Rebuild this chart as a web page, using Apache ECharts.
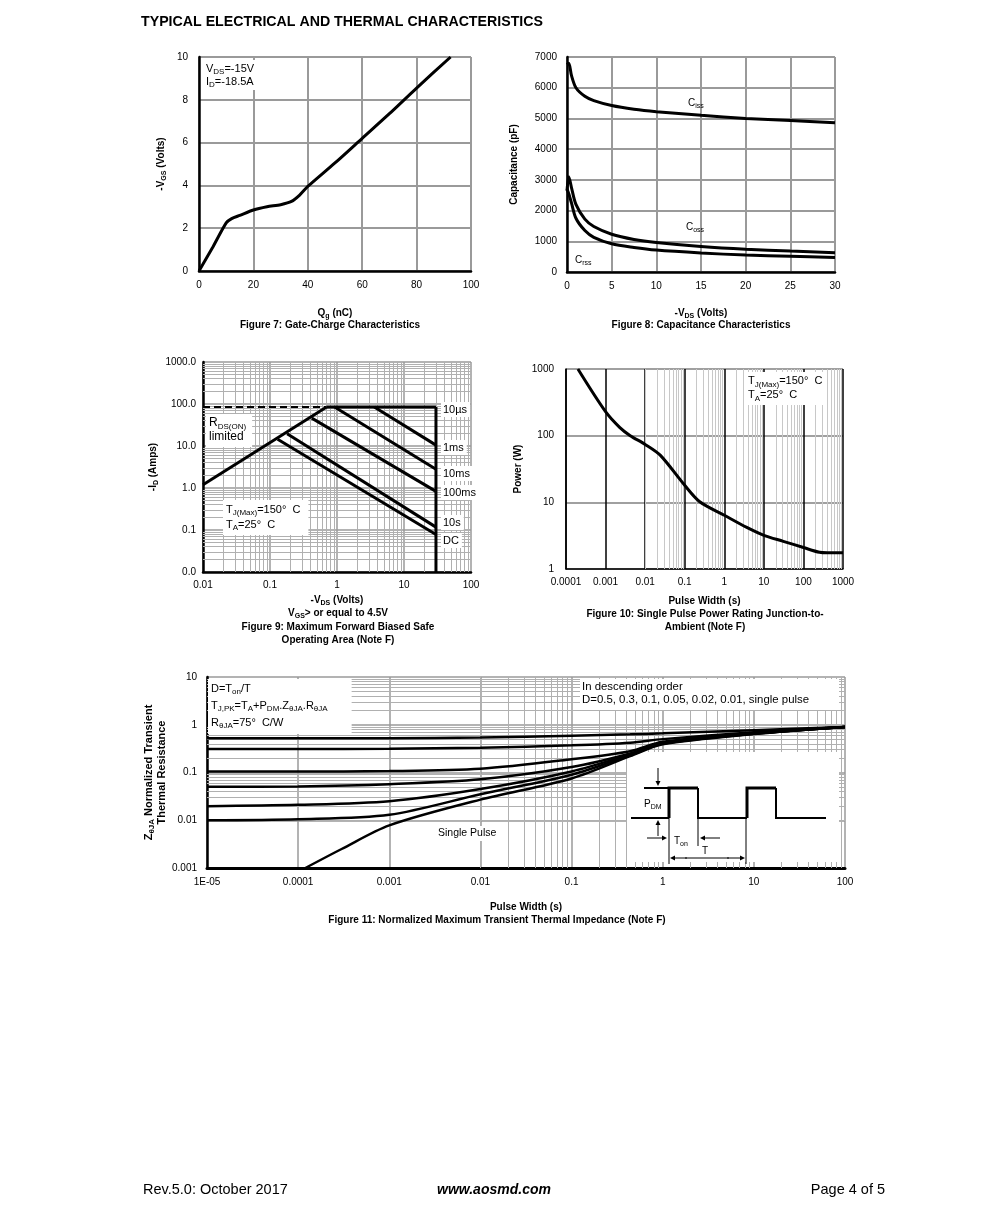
<!DOCTYPE html>
<html><head><meta charset="utf-8">
<script src="https://cdn.jsdelivr.net/npm/echarts@6/dist/echarts.min.js"></script>
<style>html,body{margin:0;padding:0;background:#fff;}#c{width:991px;height:1225px;}</style>
</head><body><div id="c"></div>
<script>
// ---------- DATA ----------
// Figure 7: gate charge
const fig7Qg  = [0, 5, 10, 12, 15, 20, 25, 30, 34, 37, 40, 50, 60, 70, 80, 92.5];
const fig7Vgs = [0, 1.1, 2.25, 2.45, 2.6, 2.85, 3.0, 3.1, 3.25, 3.55, 3.95, 5.05, 6.2, 7.35, 8.55, 10];
// Figure 8: capacitance
const fig8Vds  = [0, 0.2, 0.5, 1, 2, 3, 5, 7.5, 10, 15, 20, 25, 30];
const fig8Ciss = [6750, 6800, 6400, 6000, 5720, 5580, 5420, 5300, 5220, 5100, 5000, 4930, 4860];
const fig8Coss = [2650, 3100, 2750, 2200, 1720, 1480, 1230, 1060, 960, 830, 740, 680, 630];
const fig8Crss = [2700, 2550, 2250, 1750, 1350, 1130, 920, 800, 715, 620, 550, 510, 470];
// Figure 9: SOA (x = -VDS, y = -ID)
const fig9RdsLimit = [[0.01, 1.2], [0.7, 85]];
const fig9Dashed   = [[0.01, 85], [0.7, 85]];
const fig9Top10us  = [[0.7, 85], [30, 85]];
const fig9VdsMax   = [[30, 85], [30, 0.01]];
const fig9L1ms     = [[3.6, 85], [30, 10.5]];
const fig9L10ms    = [[0.92, 85], [30, 2.8]];
const fig9L100ms   = [[0.42, 46], [30, 0.83]];
const fig9L10s     = [[0.18, 19.5], [30, 0.117]];
const fig9LDC      = [[0.13, 14.5], [30, 0.078]];
const fig9Labels   = ['10µs', '1ms', '10ms', '100ms', '10s', 'DC'];
const fig9XTicks = ['0.01', '0.1', '1', '10', '100'];
const fig9YTicks = ['0.0', '0.1', '1.0', '10.0', '100.0', '1000.0'];
// Figure 10: single pulse power
const fig10Pw  = [0.0002, 0.001, 0.0023, 0.0042, 0.01, 0.024, 0.1, 0.24, 1, 3.7, 10, 31, 100, 255, 400, 1000];
const fig10Pwr = [1000, 229, 132, 100, 74, 51, 18, 10.2, 6.4, 4.2, 3.2, 2.6, 2.1, 1.78, 1.75, 1.75];
const fig10XTicks = ['0.0001', '0.001', '0.01', '0.1', '1', '10', '100', '1000'];
const fig10YTicks = ['1', '10', '100', '1000'];
// Figure 11: transient thermal impedance
const fig11T   = [1e-5, 1e-4, 1e-3, 0.01, 0.1, 0.44, 1, 10, 100];
const fig11D05 = [0.52, 0.52, 0.52, 0.54, 0.59, 0.63, 0.66, 0.77, 0.9];
const fig11D03 = [0.31, 0.31, 0.315, 0.33, 0.37, 0.42, 0.5, 0.7, 0.9];
const fig11D01 = [0.105, 0.105, 0.107, 0.12, 0.19, 0.28, 0.44, 0.67, 0.9];
const fig11D005 = [0.05, 0.051, 0.057, 0.072, 0.13, 0.25, 0.42, 0.66, 0.9];
const fig11D002 = [0.0197, 0.021, 0.025, 0.045, 0.105, 0.24, 0.41, 0.65, 0.9];
const fig11D001 = [0.01, 0.0105, 0.013, 0.035, 0.09, 0.23, 0.4, 0.65, 0.9];
const fig11SpT = [1.2e-4, 3e-4, 1e-3, 0.01, 0.1, 0.44, 1, 10, 100];
const fig11Sp  = [0.001, 0.0025, 0.0078, 0.027, 0.075, 0.22, 0.39, 0.64, 0.9];
const fig11XTicks = ['1E-05', '0.0001', '0.001', '0.01', '0.1', '1', '10', '100'];
const fig11YTicks = ['0.001', '0.01', '0.1', '1', '10'];

// ---------- HELPERS ----------
const FONT = '"Liberation Sans", Arial, Helvetica, sans-serif';
const SUB = {fontSize: 7, fontFamily: FONT, padding: [6, 0, 0, 0]};
const SUBB = {fontSize: 7, fontFamily: FONT, fontWeight: 'bold', padding: [6, 0, 0, 0]};
const zip = (xs, ys) => xs.map((x, i) => [x, ys[i]]);
const logFmt = (arr, minExp) => (v) => arr[Math.round(Math.log10(v)) - minExp] || '';
function minors(lo, hi) { const o = []; for (let e = lo; e < hi; e++) for (let k = 2; k <= 9; k++) o.push(+(k * Math.pow(10, e)).toPrecision(3)); return o; }

function gridLines(i, vx, vy, style) {
  return { type: 'line', xAxisIndex: i, yAxisIndex: i, data: [], z: 1, silent: true, animation: false,
    markLine: { z: 1, silent: true, symbol: ['none', 'none'], label: {show: false}, animation: false,
      lineStyle: Object.assign({type: 'solid'}, style),
      emphasis: {disabled: true},
      data: vx.map(v => ({xAxis: v})).concat(vy.map(v => ({yAxis: v}))) } };
}
function curve(i, data, opt) {
  return Object.assign({ type: 'line', xAxisIndex: i, yAxisIndex: i, data: data, showSymbol: false, symbol: 'none',
    z: 5, silent: true, animation: false, lineStyle: {color: '#000', width: 3}, smooth: false }, opt || {});
}
const axisName = () => ({fontFamily: FONT, fontSize: 10, fontWeight: 'bold', color: '#000', rich: {s: SUBB}});
const lbl = (m, extra) => Object.assign({fontFamily: FONT, fontSize: 10, color: '#000', margin: m}, extra || {});
function txt(x, y, text, o) {
  o = o || {};
  const fs = o.fs || 10;
  const sub = {fontSize: Math.round(fs * 0.7), fontFamily: FONT, fontWeight: o.fw || 'normal', padding: [Math.round(fs * 0.6), 0, 0, 0]};
  return { type: 'text', x: x, y: y, z: o.z || 6, silent: true,
    style: Object.assign({ text: text, fontFamily: FONT, fontSize: fs, fontWeight: o.fw || 'normal', fill: '#000',
      align: o.align || 'left', textAlign: o.align || 'left', verticalAlign: o.va || 'middle', textVerticalAlign: o.va || 'middle',
      rich: {s: sub} }, o.style || {}) };
}
function box(x, y, text, o) {
  o = Object.assign({z: 3}, o || {});
  o.style = Object.assign({backgroundColor: '#fff', padding: o.pad || [2, 4, 2, 3], lineHeight: o.lh || 13}, o.style || {});
  o.va = 'top';
  return txt(x, y, text, o);
}
function arrow(x1, y1, x2, y2) {
  const dx = x2 - x1, dy = y2 - y1, L = Math.hypot(dx, dy), ux = dx / L, uy = dy / L, h = 5, w = 2.5;
  return [
    {type: 'line', z: 4, z2: 2, shape: {x1: x1, y1: y1, x2: x2 - ux * h, y2: y2 - uy * h}, style: {stroke: '#000', lineWidth: 1}},
    {type: 'polygon', z: 4, z2: 2, shape: {points: [[x2, y2], [x2 - ux * h - uy * w, y2 - uy * h + ux * w], [x2 - ux * h + uy * w, y2 - uy * h - ux * w]]}, style: {fill: '#000'}}
  ];
}
const seg = (pts, w) => ({type: 'polyline', z: 4, z2: 2, shape: {points: pts}, style: {stroke: '#000', lineWidth: w, fill: null}});

// ---------- OPTION ----------
const GRAY = '#9a9a9a';
const grids = [
  {left: 199, top: 57, width: 272, height: 214},
  {left: 567, top: 57, width: 268, height: 215},
  {left: 203, top: 362, width: 268, height: 210},
  {left: 566, top: 369, width: 277, height: 200},
  {left: 207, top: 677, width: 638, height: 191}
];
const axLine = (w) => ({show: true, onZero: false, lineStyle: {color: '#000', width: w}});
const plain = (v) => String(v);
const xAxes = [
  {gridIndex: 0, type: 'value', min: 0, max: 100, interval: 20, axisLine: axLine(2.5), axisTick: {show: false},
   axisLabel: lbl(9, {formatter: plain}), splitLine: {lineStyle: {color: GRAY, width: 2}},
   name: 'Q{s|g} (nC)', nameLocation: 'middle', nameGap: 36, nameTextStyle: axisName()},
  {gridIndex: 1, type: 'value', min: 0, max: 30, interval: 5, axisLine: axLine(2.5), axisTick: {show: false},
   axisLabel: lbl(9, {formatter: plain}), splitLine: {lineStyle: {color: GRAY, width: 2}},
   name: '-V{s|DS} (Volts)', nameLocation: 'middle', nameGap: 35, nameTextStyle: axisName()},
  {gridIndex: 2, type: 'log', logBase: 10, min: 0.01, max: 100, splitNumber: 4, axisLine: axLine(2.5), axisTick: {show: false},
   axisLabel: lbl(8, {formatter: logFmt(fig9XTicks, -2)}), splitLine: {lineStyle: {color: GRAY, width: 1.5}},
   name: '-V{s|DS} (Volts)', nameLocation: 'middle', nameGap: 22, nameTextStyle: axisName()},
  {gridIndex: 3, type: 'log', logBase: 10, min: 0.0001, max: 1000, splitNumber: 7, axisLine: axLine(1.5), axisTick: {show: false},
   axisLabel: lbl(8, {formatter: logFmt(fig10XTicks, -4)}), splitLine: {lineStyle: {color: '#000', width: 1.5}},
   name: 'Pulse Width (s)', nameLocation: 'middle', nameGap: 27, nameTextStyle: axisName()},
  {gridIndex: 4, type: 'log', logBase: 10, min: 1e-5, max: 100, splitNumber: 7, axisLine: axLine(3), axisTick: {show: false},
   axisLabel: lbl(9, {formatter: logFmt(fig11XTicks, -5)}), splitLine: {lineStyle: {color: GRAY, width: 1.5}},
   name: 'Pulse Width (s)', nameLocation: 'middle', nameGap: 34, nameTextStyle: axisName()}
];
const yAxes = [
  {gridIndex: 0, type: 'value', min: 0, max: 10, interval: 2, axisLine: axLine(2.5), axisTick: {show: false},
   axisLabel: lbl(11, {formatter: plain}), splitLine: {lineStyle: {color: GRAY, width: 2}},
   name: '-V{s|GS} (Volts)', nameLocation: 'middle', nameGap: 31, nameTextStyle: axisName()},
  {gridIndex: 1, type: 'value', min: 0, max: 7000, interval: 1000, axisLine: axLine(2.5), axisTick: {show: false},
   axisLabel: lbl(10, {formatter: plain}), splitLine: {lineStyle: {color: GRAY, width: 2}},
   name: 'Capacitance (pF)', nameLocation: 'middle', nameGap: 48, nameTextStyle: axisName()},
  {gridIndex: 2, type: 'log', logBase: 10, min: 0.01, max: 1000, splitNumber: 5, axisLine: axLine(2.5), axisTick: {show: false},
   axisLabel: lbl(7, {formatter: logFmt(fig9YTicks, -2)}), splitLine: {lineStyle: {color: GRAY, width: 1.5}},
   name: '-I{s|D} (Amps)', nameLocation: 'middle', nameGap: 43, nameTextStyle: axisName()},
  {gridIndex: 3, type: 'log', logBase: 10, min: 1, max: 1000, splitNumber: 3, axisLine: axLine(1.5), axisTick: {show: false},
   axisLabel: lbl(12, {formatter: logFmt(fig10YTicks, 0)}), splitLine: {lineStyle: {color: '#808080', width: 1.5}},
   name: 'Power (W)', nameLocation: 'middle', nameGap: 43, nameTextStyle: axisName()},
  {gridIndex: 4, type: 'log', logBase: 10, min: 0.001, max: 10, splitNumber: 4, axisLine: axLine(2.5), axisTick: {show: false},
   axisLabel: lbl(10, {formatter: logFmt(fig11YTicks, -3)}), splitLine: {lineStyle: {color: GRAY, width: 1.5}},
   name: 'Z{s|θJA} Normalized Transient\nThermal Resistance', nameLocation: 'middle', nameGap: 39, nameMoveOverlap: false,
   nameTextStyle: Object.assign(axisName(), {fontSize: 11, lineHeight: 13, rich: {s: {fontSize: 8, fontFamily: FONT, fontWeight: 'bold', padding: [6, 0, 0, 0]}}})}
];

const FIG11W = 2.5;
const series = [
  // grid minors
  gridLines(2, minors(-2, 2), minors(-2, 3), {color: '#b0b0b0', width: 1}),
  gridLines(3, minors(-4, 3), [], {color: '#c8c8c8', width: 1}),
  gridLines(4, minors(-5, 2), minors(-3, 1), {color: '#b0b0b0', width: 1}),
  // fig 7
  curve(0, zip(fig7Qg, fig7Vgs), {smooth: 0.25}),
  // fig 8
  curve(1, zip(fig8Vds, fig8Ciss), {smooth: 0.3}),
  curve(1, zip(fig8Vds, fig8Coss), {smooth: 0.3}),
  curve(1, zip(fig8Vds, fig8Crss), {smooth: 0.3}),
  // fig 9
  curve(2, fig9Dashed, {lineStyle: {color: '#000', width: 2, type: [7, 4]}}),
  curve(2, fig9RdsLimit), curve(2, fig9Top10us), curve(2, fig9VdsMax),
  curve(2, fig9L1ms), curve(2, fig9L10ms), curve(2, fig9L100ms), curve(2, fig9L10s), curve(2, fig9LDC),
  // fig 10
  curve(3, zip(fig10Pw, fig10Pwr), {smooth: 0.3}),
  // fig 11
  curve(4, zip(fig11T, fig11D05), {smooth: 0.3, lineStyle: {color: '#000', width: FIG11W}}),
  curve(4, zip(fig11T, fig11D03), {smooth: 0.3, lineStyle: {color: '#000', width: FIG11W}}),
  curve(4, zip(fig11T, fig11D01), {smooth: 0.3, lineStyle: {color: '#000', width: FIG11W}}),
  curve(4, zip(fig11T, fig11D005), {smooth: 0.3, lineStyle: {color: '#000', width: FIG11W}}),
  curve(4, zip(fig11T, fig11D002), {smooth: 0.3, lineStyle: {color: '#000', width: FIG11W}}),
  curve(4, zip(fig11T, fig11D001), {smooth: 0.3, lineStyle: {color: '#000', width: FIG11W}}),
  curve(4, zip(fig11SpT, fig11Sp), {smooth: 0.3, lineStyle: {color: '#000', width: FIG11W}})
];

// inset pulse diagram for fig 11
const insetText = (x, y, t, al) => ({type: 'text', z: 4, z2: 3, x: x, y: y,
  style: {text: t, fontFamily: FONT, fontSize: 10, fill: '#000', align: al, verticalAlign: 'middle', textAlign: al, textVerticalAlign: 'middle', rich: {s: SUB}}});
const inset = {type: 'group', x: 627, y: 752, z: 4, silent: true, children: [
  {type: 'rect', z: 4, z2: 0, shape: {x: 0, y: 0, width: 212, height: 110}, style: {fill: '#fff'}},
  seg([[4, 66], [42, 66]], 2),
  seg([[42, 66], [42, 36], [71, 36]], 3),
  seg([[71, 36], [71, 66], [120, 66]], 2),
  seg([[120, 66], [120, 36], [149, 36]], 3),
  seg([[149, 36], [149, 66], [199, 66]], 2),
  seg([[17, 36], [42, 36]], 2),
  seg([[42, 66], [42, 112]], 1),
  seg([[71, 66], [71, 94]], 1),
  seg([[119, 66], [119, 112]], 1),
  ...arrow(31, 16, 31, 34), ...arrow(31, 84, 31, 68),
  ...arrow(20, 86, 40, 86), ...arrow(93, 86, 73, 86),
  ...arrow(60, 106, 43, 106), ...arrow(100, 106, 118, 106),
  seg([[58, 106], [102, 106]], 1),
  insetText(17, 52, 'P{s|DM}', 'left'),
  insetText(47, 89, 'T{s|on}', 'left'),
  insetText(78, 99, 'T', 'center')
]};

const graphics = [
  txt(141, 22, 'TYPICAL ELECTRICAL AND THERMAL CHARACTERISTICS', {fs: 14.2, fw: 'bold'}),
  // fig 7
  box(203, 60, 'V{s|DS}=-15V\nI{s|D}=-18.5A', {fs: 11, pad: [2, 3, 2, 3]}),
  txt(330, 325, 'Figure 7: Gate-Charge Characteristics', {fw: 'bold', align: 'center'}),
  // fig 8
  txt(688, 103, 'C{s|iss}', {}),
  txt(686, 227, 'C{s|oss}', {}),
  txt(575, 260, 'C{s|rss}', {}),
  txt(701, 325, 'Figure 8: Capacitance Characteristics', {fw: 'bold', align: 'center'}),
  // fig 9
  box(206, 414, 'R{s|DS(ON)}\nlimited', {fs: 12, pad: [2, 6, 3, 3], lh: 14}),
  box(223, 500, 'T{s|J(Max)}=150°  C\nT{s|A}=25°  C', {fs: 11, pad: [2, 8, 3, 3], lh: 15}),
  box(441, 402, fig9Labels[0], {fs: 11, pad: [1, 3, 1, 2]}),
  box(441, 440, fig9Labels[1], {fs: 11, pad: [1, 3, 1, 2]}),
  box(441, 466, fig9Labels[2], {fs: 11, pad: [1, 3, 1, 2]}),
  box(441, 485, fig9Labels[3], {fs: 11, pad: [1, 3, 1, 2]}),
  box(441, 515, fig9Labels[4], {fs: 11, pad: [1, 3, 1, 2]}),
  box(441, 533, fig9Labels[5], {fs: 11, pad: [1, 3, 1, 2]}),
  txt(338, 613, 'V{s|GS}> or equal to 4.5V', {fw: 'bold', align: 'center'}),
  txt(338, 627, 'Figure 9: Maximum Forward Biased Safe', {fw: 'bold', align: 'center'}),
  txt(338, 640, 'Operating Area (Note F)', {fw: 'bold', align: 'center'}),
  // fig 10
  box(745, 372, 'T{s|J(Max)}=150°  C\nT{s|A}=25°  C', {fs: 11, pad: [2, 4, 3, 3], lh: 14}),
  txt(705, 614, 'Figure 10: Single Pulse Power Rating Junction-to-', {fw: 'bold', align: 'center'}),
  txt(705, 627, 'Ambient (Note F)', {fw: 'bold', align: 'center'}),
  // fig 11
  box(208, 679, 'D=T{s|on}/T\nT{s|J,PK}=T{s|A}+P{s|DM}.Z{s|θJA}.R{s|θJA}\nR{s|θJA}=75°  C/W', {fs: 11, pad: [1, 24, 3, 3], lh: 17}),
  box(580, 679, 'In descending order\nD=0.5, 0.3, 0.1, 0.05, 0.02, 0.01, single pulse', {fs: 11.4, pad: [1, 30, 4, 2], lh: 13}),
  box(435, 826, 'Single Pulse', {fs: 10.5, pad: [1, 6, 1, 3]}),
  inset,
  txt(497, 920, 'Figure 11: Normalized Maximum Transient Thermal Impedance (Note F)', {fw: 'bold', align: 'center'}),
  // footer
  txt(143, 1190, 'Rev.5.0: October 2017', {fs: 14.5}),
  txt(494, 1190, 'www.aosmd.com', {fs: 14, align: 'center', style: {fontWeight: 'bold', fontStyle: 'italic'}}),
  txt(885, 1190, 'Page 4 of 5', {fs: 14.5, align: 'right'})
];

const chart = echarts.init(document.getElementById('c'), null, {renderer: 'canvas', width: 991, height: 1225});
chart.setOption({
  backgroundColor: '#fff', animation: false,
  textStyle: {fontFamily: FONT},
  grid: grids, xAxis: xAxes, yAxis: yAxes, series: series, graphic: graphics
});
</script>
</body></html>
